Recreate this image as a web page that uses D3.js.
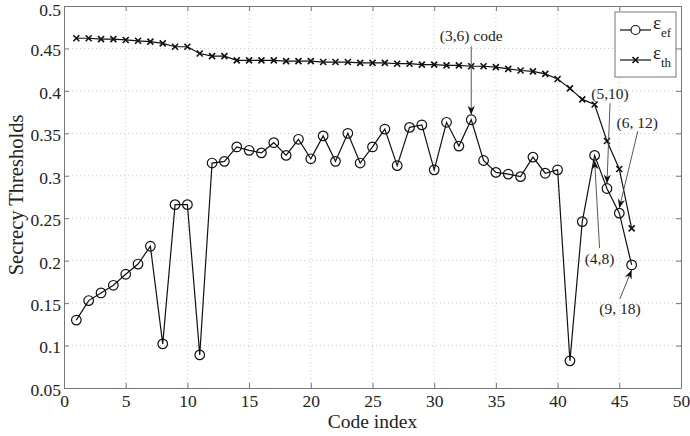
<!DOCTYPE html>
<html>
<head>
<meta charset="utf-8">
<script src="https://cdn.jsdelivr.net/npm/d3@7"></script>
<style>
  body { margin: 0; background: #fff; }
  text { font-family: "Liberation Serif", "Times New Roman", serif; fill: #222; }
</style>
</head>
<body>
<script>
// data
var codeIndex = [1,2,3,4,5,6,7,8,9,10,11,12,13,14,15,16,17,18,19,20,21,22,23,
                 24,25,26,27,28,29,30,31,32,33,34,35,36,37,38,39,40,41,42,43,44,45,46];
var epsEf = [0.130,0.153,0.162,0.171,0.184,0.196,0.217,0.102,0.266,0.266,0.089,0.315,
             0.317,0.334,0.330,0.327,0.339,0.324,0.343,0.320,0.347,0.317,0.350,0.315,
             0.334,0.355,0.312,0.357,0.360,0.307,0.363,0.335,0.366,0.318,0.304,0.302,
             0.299,0.322,0.303,0.307,0.082,0.246,0.324,0.285,0.256,0.195];
var epsTh = [0.462,0.462,0.461,0.461,0.460,0.459,0.458,0.456,0.452,0.452,0.444,0.441,
             0.441,0.436,0.436,0.436,0.436,0.435,0.435,0.435,0.434,0.434,0.434,0.433,
             0.433,0.433,0.432,0.432,0.431,0.431,0.430,0.430,0.429,0.429,0.428,0.426,
             0.424,0.423,0.420,0.414,0.403,0.390,0.384,0.341,0.308,0.238];
var xTicks = [0,5,10,15,20,25,30,35,40,45,50];
var yTicks = [0.05,0.1,0.15,0.2,0.25,0.3,0.35,0.4,0.45,0.5];

// annotations: label, label position (data units), arrow tail, index of target point, side
var notes = [
  {label: '(3,6) code', lx: 33, ly: 0.4585, ax: 33, ay: 0.4525, idx: 33, side: 'top'},
  {label: '(5,10)', lx: 44.25, ly: 0.390, ax: 44.25, ay: 0.3854, idx: 44, side: 'top'},
  {label: '(6, 12)', lx: 46.45, ly: 0.356, ax: 46.5, ay: 0.3526, idx: 45, side: 'top'},
  {label: '(4,8)', lx: 43.4, ly: 0.196, ax: 43.4, ay: 0.215, idx: 43, side: 'bottom'},
  {label: '(9, 18)', lx: 45.05, ly: 0.137, ax: 45.05, ay: 0.155, idx: 46, side: 'bottom'}
];

var margin = {top: 6, right: 9, bottom: 48, left: 64};
var W = 690, H = 436;
var w = W - margin.left - margin.right;
var h = H - margin.top - margin.bottom;

var svg = d3.select('body').append('svg')
            .attr('width', W)
            .attr('height', H);

var defs = svg.append('defs');
defs.append('marker')
    .attr('id', 'arrow')
    .attr('viewBox', '0 0 10 10')
    .attr('refX', 10).attr('refY', 5)
    .attr('markerWidth', 9).attr('markerHeight', 9)
    .attr('markerUnits', 'userSpaceOnUse')
    .attr('orient', 'auto')
    .append('path')
    .attr('d', 'M0,1 L10,5 L0,9 L3,5 Z')
    .attr('fill', '#111');

var xScale = d3.scaleLinear().domain([0, 50]).range([0, w]);
var yScale = d3.scaleLinear().domain([0.05, 0.5]).range([h, 0]);

var g = svg.append('g')
           .attr('transform', 'translate(' + margin.left + ',' + margin.top + ')');

// dotted grid
g.selectAll('.gx').data(xTicks.slice(1, -1)).enter()
 .append('line')
 .attr('x1', function(d) { return xScale(d); })
 .attr('x2', function(d) { return xScale(d); })
 .attr('y1', 0).attr('y2', h)
 .attr('stroke', '#bbb').attr('stroke-width', 0.8)
 .attr('stroke-dasharray', '1,3');
g.selectAll('.gy').data(yTicks.slice(1, -1)).enter()
 .append('line')
 .attr('y1', function(d) { return yScale(d); })
 .attr('y2', function(d) { return yScale(d); })
 .attr('x1', 0).attr('x2', w)
 .attr('stroke', '#bbb').attr('stroke-width', 0.8)
 .attr('stroke-dasharray', '1,3');

// axes with inward ticks (matlab style)
var fmtY = function(d) { return d3.format('.2~f')(d); };
var xAxis = d3.axisBottom(xScale).tickValues(xTicks).tickSizeInner(-5).tickSizeOuter(0).tickPadding(7);
var yAxis = d3.axisLeft(yScale).tickValues(yTicks).tickFormat(fmtY).tickSizeInner(-5).tickSizeOuter(0).tickPadding(3);
var xTop = d3.axisTop(xScale).tickValues(xTicks).tickSizeInner(-5).tickSizeOuter(0).tickFormat('');
var yRight = d3.axisRight(yScale).tickValues(yTicks).tickSizeInner(-5).tickSizeOuter(0).tickFormat('');

g.append('g').attr('class', 'axis').attr('transform', 'translate(0,' + h + ')').call(xAxis);
g.append('g').attr('class', 'axis yaxis').call(yAxis);
g.append('g').attr('class', 'axis').call(xTop);
g.append('g').attr('class', 'axis').attr('transform', 'translate(' + w + ',0)').call(yRight);

g.selectAll('.axis path, .axis line').attr('stroke', '#777').attr('stroke-width', 1);
g.selectAll('.axis text').style('font-size', '17.5px').attr('fill', '#222');
g.selectAll('.yaxis text').attr('dy', function(d) { return d == 0.5 ? '0.52em' : '0.42em'; });

// series
var line = d3.line()
             .x(function(d) { return xScale(d[0]); })
             .y(function(d) { return yScale(d[1]); });

var efPts = codeIndex.map(function(c, i) { return [c, epsEf[i]]; });
var thPts = codeIndex.map(function(c, i) { return [c, epsTh[i]]; });

g.append('path').datum(thPts)
 .attr('d', line).attr('fill', 'none')
 .attr('stroke', '#111').attr('stroke-width', 1.2);
g.append('path').datum(efPts)
 .attr('d', line).attr('fill', 'none')
 .attr('stroke', '#111').attr('stroke-width', 1.2);

var xMark = function(sel, s) {
  sel.append('path')
     .attr('d', 'M' + (-s) + ',' + (-s) + 'L' + s + ',' + s + 'M' + (-s) + ',' + s + 'L' + s + ',' + (-s))
     .attr('stroke', '#111').attr('stroke-width', 1.6).attr('fill', 'none');
};

g.selectAll('.th').data(thPts).enter()
 .append('g')
 .attr('transform', function(d) { return 'translate(' + xScale(d[0]) + ',' + yScale(d[1]) + ')'; })
 .call(xMark, 3);

g.selectAll('.ef').data(efPts).enter()
 .append('circle')
 .attr('cx', function(d) { return xScale(d[0]); })
 .attr('cy', function(d) { return yScale(d[1]); })
 .attr('r', 4.8)
 .attr('fill', '#fff').attr('fill-opacity', 0)
 .attr('stroke', '#111').attr('stroke-width', 1.2);

// annotations
notes.forEach(function(n) {
  var tx = xScale(codeIndex[n.idx - 1]);
  var ty = yScale(epsEf[n.idx - 1]) + (n.side == 'top' ? -5 : 5);
  g.append('line')
   .attr('x1', xScale(n.ax)).attr('y1', yScale(n.ay))
   .attr('x2', tx).attr('y2', ty)
   .attr('stroke', '#444').attr('stroke-width', 0.9)
   .attr('marker-end', 'url(#arrow)');
  g.append('text')
   .attr('x', xScale(n.lx)).attr('y', yScale(n.ly))
   .attr('text-anchor', 'middle')
   .style('font-size', '15.5px')
   .text(n.label);
});

// axis labels
svg.append('text')
   .attr('text-anchor', 'middle')
   .attr('x', margin.left + w / 2).attr('y', H - 8)
   .style('font-size', '19.5px')
   .text('Code index');
svg.append('text')
   .attr('text-anchor', 'middle')
   .attr('transform', 'translate(23,' + (margin.top + h / 2 - 2) + ')rotate(-90)')
   .style('font-size', '20.5px')
   .text('Secrecy Thresholds');

// legend
var leg = svg.append('g').attr('transform', 'translate(615,12)');
leg.append('rect')
   .attr('width', 61).attr('height', 65)
   .attr('fill', '#fff').attr('stroke', '#777').attr('stroke-width', 1);
var legItems = [{sub: 'ef', y: 18, mark: 'o'}, {sub: 'th', y: 48, mark: 'x'}];
legItems.forEach(function(it) {
  leg.append('line')
     .attr('x1', 5).attr('x2', 36).attr('y1', it.y).attr('y2', it.y)
     .attr('stroke', '#111').attr('stroke-width', 1.2);
  if (it.mark == 'o') {
    leg.append('circle').attr('cx', 20.5).attr('cy', it.y).attr('r', 4.5)
       .attr('fill', '#fff').attr('stroke', '#111').attr('stroke-width', 1.2);
  } else {
    leg.append('g').attr('transform', 'translate(20.5,' + it.y + ')').call(xMark, 3);
  }
  var t = leg.append('text').attr('x', 38).attr('y', it.y - 1).style('font-size', '19px');
  t.append('tspan').text('\u03b5');
  t.append('tspan').attr('dy', 8).style('font-size', '13px').text(it.sub);
});
</script>
</body>
</html>
